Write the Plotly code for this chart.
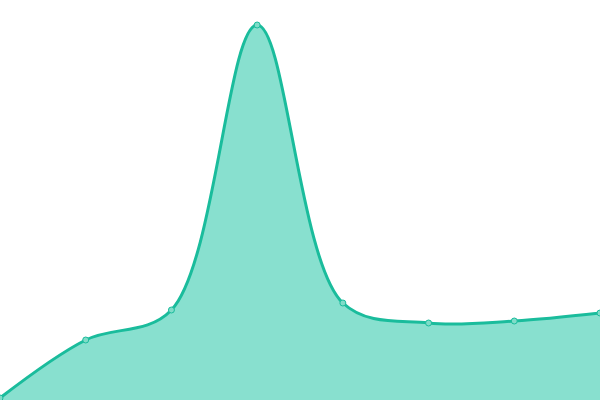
import plotly.graph_objects as go

x_vals = [0, 1, 2, 3, 4, 5, 6, 7]
y_vals = [2, 60, 90, 375, 97, 77, 79, 87]

fig = go.Figure()
fig.add_trace(go.Scatter(
    x=x_vals, y=y_vals, mode="lines+markers",
    line=dict(color="#1abc9c", width=3, shape="spline", smoothing=1),
    fill="tozeroy", fillcolor="#88e0cf",
    marker=dict(size=6, color="#7fdcc8", line=dict(color="#1abc9c", width=1)),
    cliponaxis=False, hoverinfo="skip",
))
fig.update_layout(
    width=600, height=400, margin=dict(l=0, r=0, t=0, b=0),
    paper_bgcolor="white", plot_bgcolor="white", showlegend=False,
    xaxis=dict(range=[0, 7], visible=False, fixedrange=True),
    yaxis=dict(range=[0, 400], visible=False, fixedrange=True),
)
fig.write_html(
    "out.html",
    config={"displayModeBar": False},
    post_script="document.body.style.margin='0';document.body.style.overflow='hidden';",
)
